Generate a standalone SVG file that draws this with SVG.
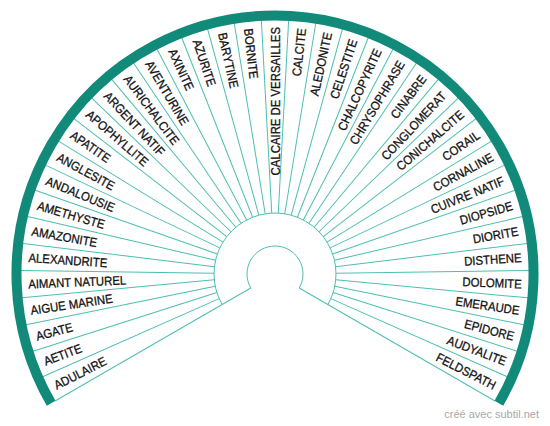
<svg xmlns="http://www.w3.org/2000/svg" width="550" height="426" viewBox="0 0 550 426">
<style>
.ln{stroke:#4dbfb0;stroke-width:1;fill:none}
.band{stroke:#128a7a;stroke-width:10;fill:none}
text{font-family:"Liberation Sans",Arial,sans-serif;font-size:12.5px;fill:#111;stroke:#111;stroke-width:0.3px}
.l{text-anchor:start}
.r{text-anchor:end}
.credit{font-size:11px;fill:#a8a8a8;stroke:none}
</style>
<rect width="550" height="426" fill="#fff"/>
<g transform="translate(275,274)">
<g id="connectors">
<path class="ln" d="M -24.25 14 A 28 28 0 1 1 24.25 14"/>
<path class="ln" d="M -52.83 30.5 A 61 61 0 1 1 52.83 30.5"/>
<line class="ln" x1="28" y1="0" x2="254" y2="0" transform="rotate(-210)"/>
<line class="ln" x1="61" y1="0" x2="254" y2="0" transform="rotate(-203.846)"/>
<line class="ln" x1="61" y1="0" x2="254" y2="0" transform="rotate(-197.692)"/>
<line class="ln" x1="61" y1="0" x2="254" y2="0" transform="rotate(-191.538)"/>
<line class="ln" x1="61" y1="0" x2="254" y2="0" transform="rotate(-185.385)"/>
<line class="ln" x1="61" y1="0" x2="254" y2="0" transform="rotate(-179.231)"/>
<line class="ln" x1="61" y1="0" x2="254" y2="0" transform="rotate(-173.077)"/>
<line class="ln" x1="61" y1="0" x2="254" y2="0" transform="rotate(-166.923)"/>
<line class="ln" x1="61" y1="0" x2="254" y2="0" transform="rotate(-160.769)"/>
<line class="ln" x1="61" y1="0" x2="254" y2="0" transform="rotate(-154.615)"/>
<line class="ln" x1="61" y1="0" x2="254" y2="0" transform="rotate(-148.462)"/>
<line class="ln" x1="61" y1="0" x2="254" y2="0" transform="rotate(-142.308)"/>
<line class="ln" x1="61" y1="0" x2="254" y2="0" transform="rotate(-136.154)"/>
<line class="ln" x1="61" y1="0" x2="254" y2="0" transform="rotate(-130)"/>
<line class="ln" x1="61" y1="0" x2="254" y2="0" transform="rotate(-123.846)"/>
<line class="ln" x1="61" y1="0" x2="254" y2="0" transform="rotate(-117.692)"/>
<line class="ln" x1="61" y1="0" x2="254" y2="0" transform="rotate(-111.538)"/>
<line class="ln" x1="61" y1="0" x2="254" y2="0" transform="rotate(-105.385)"/>
<line class="ln" x1="61" y1="0" x2="254" y2="0" transform="rotate(-99.231)"/>
<line class="ln" x1="61" y1="0" x2="254" y2="0" transform="rotate(-93.077)"/>
<line class="ln" x1="61" y1="0" x2="254" y2="0" transform="rotate(-86.923)"/>
<line class="ln" x1="61" y1="0" x2="254" y2="0" transform="rotate(-80.769)"/>
<line class="ln" x1="61" y1="0" x2="254" y2="0" transform="rotate(-74.615)"/>
<line class="ln" x1="61" y1="0" x2="254" y2="0" transform="rotate(-68.462)"/>
<line class="ln" x1="61" y1="0" x2="254" y2="0" transform="rotate(-62.308)"/>
<line class="ln" x1="61" y1="0" x2="254" y2="0" transform="rotate(-56.154)"/>
<line class="ln" x1="61" y1="0" x2="254" y2="0" transform="rotate(-50)"/>
<line class="ln" x1="61" y1="0" x2="254" y2="0" transform="rotate(-43.846)"/>
<line class="ln" x1="61" y1="0" x2="254" y2="0" transform="rotate(-37.692)"/>
<line class="ln" x1="61" y1="0" x2="254" y2="0" transform="rotate(-31.538)"/>
<line class="ln" x1="61" y1="0" x2="254" y2="0" transform="rotate(-25.385)"/>
<line class="ln" x1="61" y1="0" x2="254" y2="0" transform="rotate(-19.231)"/>
<line class="ln" x1="61" y1="0" x2="254" y2="0" transform="rotate(-13.077)"/>
<line class="ln" x1="61" y1="0" x2="254" y2="0" transform="rotate(-6.923)"/>
<line class="ln" x1="61" y1="0" x2="254" y2="0" transform="rotate(-0.769)"/>
<line class="ln" x1="61" y1="0" x2="254" y2="0" transform="rotate(5.385)"/>
<line class="ln" x1="61" y1="0" x2="254" y2="0" transform="rotate(11.538)"/>
<line class="ln" x1="61" y1="0" x2="254" y2="0" transform="rotate(17.692)"/>
<line class="ln" x1="61" y1="0" x2="254" y2="0" transform="rotate(23.846)"/>
<line class="ln" x1="28" y1="0" x2="254" y2="0" transform="rotate(30)"/>
</g>
<path id="rim" class="band" d="M -223.87 129.25 A 258.5 258.5 0 1 1 223.87 129.25"/>
<g id="adulaire"><text class="l" dy="0.36em" transform="rotate(-206.923) translate(247,0) rotate(180) scale(0.91,1)">ADULAIRE</text></g>
<g id="aetite"><text class="l" dy="0.36em" transform="rotate(-200.769) translate(247,0) rotate(180) scale(0.91,1)">AETITE</text></g>
<g id="agate"><text class="l" dy="0.36em" transform="rotate(-194.615) translate(247,0) rotate(180) scale(0.91,1)">AGATE</text></g>
<g id="aigue-marine"><text class="l" dy="0.36em" transform="rotate(-188.462) translate(247,0) rotate(180) scale(0.91,1)">AIGUE MARINE</text></g>
<g id="aimant-naturel"><text class="l" dy="0.36em" transform="rotate(-182.308) translate(247,0) rotate(180) scale(0.91,1)">AIMANT NATUREL</text></g>
<g id="alexandrite"><text class="l" dy="0.36em" transform="rotate(-176.154) translate(247,0) rotate(180) scale(0.91,1)">ALEXANDRITE</text></g>
<g id="amazonite"><text class="l" dy="0.36em" transform="rotate(-170) translate(247,0) rotate(180) scale(0.91,1)">AMAZONITE</text></g>
<g id="amethyste"><text class="l" dy="0.36em" transform="rotate(-163.846) translate(247,0) rotate(180) scale(0.91,1)">AMETHYSTE</text></g>
<g id="andalousie"><text class="l" dy="0.36em" transform="rotate(-157.692) translate(247,0) rotate(180) scale(0.91,1)">ANDALOUSIE</text></g>
<g id="anglesite"><text class="l" dy="0.36em" transform="rotate(-151.538) translate(247,0) rotate(180) scale(0.91,1)">ANGLESITE</text></g>
<g id="apatite"><text class="l" dy="0.36em" transform="rotate(-145.385) translate(247,0) rotate(180) scale(0.91,1)">APATITE</text></g>
<g id="apophyllite"><text class="l" dy="0.36em" transform="rotate(-139.231) translate(247,0) rotate(180) scale(0.91,1)">APOPHYLLITE</text></g>
<g id="argent-natif"><text class="l" dy="0.36em" transform="rotate(-133.077) translate(247,0) rotate(180) scale(0.91,1)">ARGENT NATIF</text></g>
<g id="aurichalcite"><text class="l" dy="0.36em" transform="rotate(-126.923) translate(247,0) rotate(180) scale(0.91,1)">AURICHALCITE</text></g>
<g id="aventurine"><text class="l" dy="0.36em" transform="rotate(-120.769) translate(247,0) rotate(180) scale(0.91,1)">AVENTURINE</text></g>
<g id="axinite"><text class="l" dy="0.36em" transform="rotate(-114.615) translate(247,0) rotate(180) scale(0.91,1)">AXINITE</text></g>
<g id="azurite"><text class="l" dy="0.36em" transform="rotate(-108.462) translate(247,0) rotate(180) scale(0.91,1)">AZURITE</text></g>
<g id="barytine"><text class="l" dy="0.36em" transform="rotate(-102.308) translate(247,0) rotate(180) scale(0.91,1)">BARYTINE</text></g>
<g id="bornite"><text class="l" dy="0.36em" transform="rotate(-96.154) translate(247,0) rotate(180) scale(0.91,1)">BORNITE</text></g>
<g id="calcaire-de-versailles"><text class="r" dy="0.36em" transform="rotate(-90) translate(247,0) scale(0.91,1)">CALCAIRE DE VERSAILLES</text></g>
<g id="calcite"><text class="r" dy="0.36em" transform="rotate(-83.846) translate(247,0) scale(0.91,1)">CALCITE</text></g>
<g id="aledonite"><text class="r" dy="0.36em" transform="rotate(-77.692) translate(247,0) scale(0.91,1)">ALEDONITE</text></g>
<g id="celestite"><text class="r" dy="0.36em" transform="rotate(-71.538) translate(247,0) scale(0.91,1)">CELESTITE</text></g>
<g id="chalcopyrite"><text class="r" dy="0.36em" transform="rotate(-65.385) translate(247,0) scale(0.91,1)">CHALCOPYRITE</text></g>
<g id="chrysophrase"><text class="r" dy="0.36em" transform="rotate(-59.231) translate(247,0) scale(0.91,1)">CHRYSOPHRASE</text></g>
<g id="cinabre"><text class="r" dy="0.36em" transform="rotate(-53.077) translate(247,0) scale(0.91,1)">CINABRE</text></g>
<g id="conglomerat"><text class="r" dy="0.36em" transform="rotate(-46.923) translate(247,0) scale(0.91,1)">CONGLOMERAT</text></g>
<g id="conichalcite"><text class="r" dy="0.36em" transform="rotate(-40.769) translate(247,0) scale(0.91,1)">CONICHALCITE</text></g>
<g id="corail"><text class="r" dy="0.36em" transform="rotate(-34.615) translate(247,0) scale(0.91,1)">CORAIL</text></g>
<g id="cornaline"><text class="r" dy="0.36em" transform="rotate(-28.462) translate(247,0) scale(0.91,1)">CORNALINE</text></g>
<g id="cuivre-natif"><text class="r" dy="0.36em" transform="rotate(-22.308) translate(247,0) scale(0.91,1)">CUIVRE NATIF</text></g>
<g id="diopside"><text class="r" dy="0.36em" transform="rotate(-16.154) translate(247,0) scale(0.91,1)">DIOPSIDE</text></g>
<g id="diorite"><text class="r" dy="0.36em" transform="rotate(-10) translate(247,0) scale(0.91,1)">DIORITE</text></g>
<g id="disthene"><text class="r" dy="0.36em" transform="rotate(-3.846) translate(247,0) scale(0.91,1)">DISTHENE</text></g>
<g id="dolomite"><text class="r" dy="0.36em" transform="rotate(2.308) translate(247,0) scale(0.91,1)">DOLOMITE</text></g>
<g id="emeraude"><text class="r" dy="0.36em" transform="rotate(8.462) translate(247,0) scale(0.91,1)">EMERAUDE</text></g>
<g id="epidore"><text class="r" dy="0.36em" transform="rotate(14.615) translate(247,0) scale(0.91,1)">EPIDORE</text></g>
<g id="audyalite"><text class="r" dy="0.36em" transform="rotate(20.769) translate(247,0) scale(0.91,1)">AUDYALITE</text></g>
<g id="feldspath"><text class="r" dy="0.36em" transform="rotate(26.923) translate(247,0) scale(0.91,1)">FELDSPATH</text></g>
</g>
<text class="credit" x="539" y="418" text-anchor="end">créé avec subtil.net</text>
</svg>
